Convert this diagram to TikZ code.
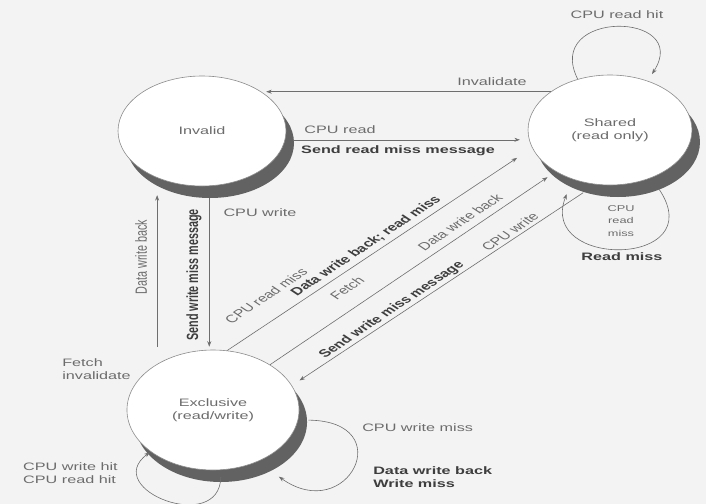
\documentclass[tikz,border=0pt]{standalone}
\usepackage{fontspec}
\setmainfont{Liberation Sans}
\usetikzlibrary{arrows.meta,shapes.geometric}
\definecolor{bgc}{HTML}{F3F3F3}
\definecolor{linec}{HTML}{6E6E6E}
\definecolor{txtc}{HTML}{6C6C6C}
\definecolor{btxtc}{HTML}{3E3E3E}
\definecolor{shadc}{HTML}{626262}
\definecolor{rimc}{HTML}{8C8C8C}
\begin{document}
\begin{tikzpicture}[x=0.666667pt, y=-1pt, xscale=1.5,
  every node/.append style={transform shape},
  state/.style={ellipse, draw=rimc, line width=0.6pt, fill=white, inner sep=0pt,
    align=center, text=txtc, font=\fontsize{10.8}{13}\selectfont,
    preaction={fill=shadc, draw=none, transform canvas={xshift=8pt, yshift=-12pt}}},
  lab/.style={inner sep=0pt, text=txtc, align=left, font=\fontsize{10.8}{13}\selectfont},
  blab/.style={inner sep=0pt, text=btxtc, align=left, font=\bfseries\fontsize{10.8}{13}\selectfont},
  conn/.style={draw=linec, line width=0.6pt, -{Stealth[length=5.5pt,width=4pt]}}
]
\fill[bgc] (0,0) rectangle (706,504);
\useasboundingbox (0,0) rectangle (706,504);

% states
\node[state, minimum width=112pt, minimum height=110pt] (inv) at (202,131) {Invalid};
\node[state, minimum width=109.3pt, minimum height=110pt] (sha) at (610,130) {Shared\\(read only)};
\node[state, minimum width=114.7pt, minimum height=120pt] (exc) at (213,410) {Exclusive\\(read/write)};

% Invalid <-> Shared
\draw[conn, shorten >=5pt] (sha.136) -- (sha.136 -| inv.45);
\draw[conn, shorten <=8pt, shorten >=9pt] (inv.-9) -- (inv.-9 -| sha.-170);
% Invalid <-> Exclusive
\draw[conn, shorten <=17pt, shorten >=17pt] (exc.129) -- (exc.129 |- inv.-122);
\draw[conn, shorten <=12pt, shorten >=3pt] (inv.-85) -- (inv.-85 |- exc.92);
% Exclusive <-> Shared
\draw[conn, shorten >=18pt] (exc.81) -- (sha.199);
\draw[conn, shorten >=10pt] (exc.50) -- (sha.229);
\draw[conn, shorten <=15pt, shorten >=9pt] (sha.260) -- (exc.25);
% self loops
\draw[conn, shorten >=8pt] (sha.113) .. controls +(-35,-70) and +(45,-70) .. (sha.63);
\draw[conn, shorten <=14pt, shorten >=16pt] (sha.-60) .. controls +(60,90) and +(-35,90) .. (sha.-117);
\draw[conn, shorten <=10pt, shorten >=26pt] (exc.-10) .. controls +(102,1) and +(90,64) .. (exc.-60);
\draw[conn, shorten <=7pt, shorten >=1pt] (exc.-85) .. controls +(-1,65) and +(-50,38) .. (exc.-135);

% labels
\node[lab] (tInv) at (492,82) {Invalidate};
\node[lab] (tCr) at (340,130) {CPU read};
\node[blab] (tSrm) at (398,151) {Send read miss message};
\node[lab, rotate=90] (tDwbA) at (141,257) {Data write back};
\node[blab, rotate=90] (tSwmA) at (194,275) {Send write miss message};
\node[lab] (tCwA) at (260,213) {CPU write};
\node[lab, anchor=west] (tFi) at (62,369) {Fetch\\invalidate};
\node[lab, rotate=45] (tCrm) at (266,296) {CPU read miss};
\node[blab, rotate=45] (tDwbrm) at (366,246) {Data write back; read miss};
\node[lab, rotate=45] (tF) at (347,288) {Fetch};
\node[lab, rotate=45] (tDwbB) at (460,222) {Data write back};
\node[blab, rotate=45] (tSwmB) at (392,310) {Send write miss message};
\node[lab, rotate=45] (tCwB) at (510,232) {CPU write};
\node[lab] (tCrh) at (617,15) {CPU read hit};
\node[lab, align=center, font=\fontsize{8.5}{12.5}\selectfont] (tCrmS) at (621,221) {CPU\\read\\miss};
\node[blab] (tRm) at (622,257) {Read miss};
\node[lab, anchor=east] (tHit) at (118,473) {CPU write hit\\CPU read hit};
\node[lab, anchor=west] (tCwm) at (362,428) {CPU write miss};
\node[blab, anchor=west] (tDwbWm) at (373,477) {Data write back\\Write miss};
\end{tikzpicture}
\end{document}
